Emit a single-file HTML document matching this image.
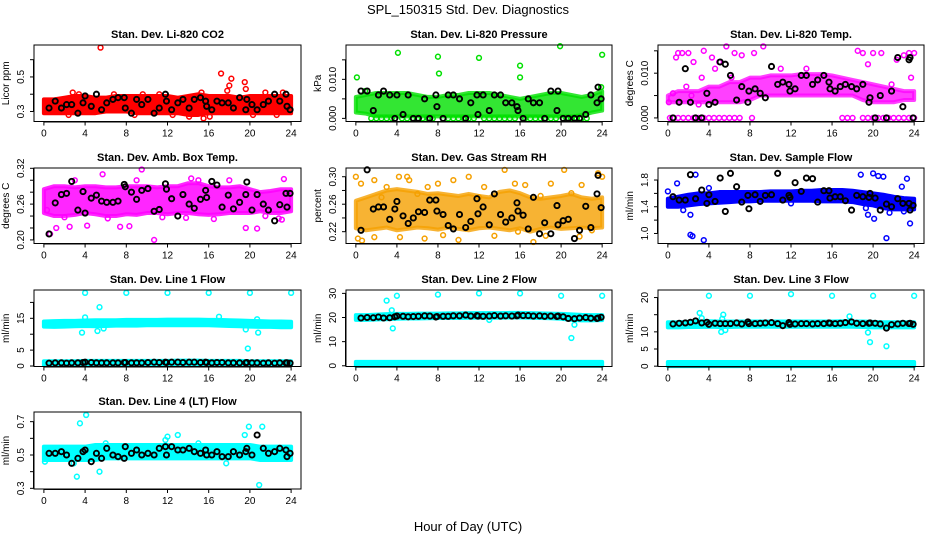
<!DOCTYPE html>
<html><head><meta charset="utf-8"><style>
body{margin:0;background:#fff;}
svg{display:block;font-family:"Liberation Sans",sans-serif;}
</style></head><body>
<svg id="chart" width="936" height="540" viewBox="0 0 936 540">
<rect width="936" height="540" fill="#fff"/>
<text x="468" y="14" text-anchor="middle" font-size="13">SPL_150315  Std. Dev. Diagnostics</text>
<text x="468" y="531" text-anchor="middle" font-size="13">Hour of Day (UTC)</text>
</svg>
<script>
const xTicks=[0,4,8,12,16,20,24];
const bandHours=[0,1,2,3,4,5,6,7,8,9,10,11,12,13,14,15,16,17,18,19,20,21,22,23,24];
const blackHours=[0.5,1.1,1.7,2.2,2.7,3.3,3.8,4.0,4.6,5.1,5.6,6.1,6.7,7.2,7.8,7.9,8.5,9.0,9.5,10.1,10.7,11.2,11.8,11.9,12.4,13.0,13.5,14.1,14.6,15.2,15.7,15.8,16.3,16.8,17.3,17.9,18.4,19.0,19.6,19.7,20.2,20.7,21.3,21.8,22.4,22.9,23.5,23.6,23.9];

// P1 CO2
const co2Lo=[0.29,0.29,0.29,0.29,0.29,0.29,0.30,0.30,0.30,0.29,0.29,0.29,0.29,0.29,0.28,0.28,0.29,0.29,0.29,0.29,0.29,0.29,0.29,0.29,0.29];
const co2Hi=[0.37,0.37,0.38,0.39,0.39,0.38,0.38,0.39,0.39,0.39,0.39,0.39,0.39,0.38,0.39,0.40,0.39,0.39,0.39,0.38,0.39,0.39,0.39,0.39,0.39];
const co2OutX=[5.5,17.2,18.2,19.5,18.0,15.5,14.1,12.5,19.6,17.8,21.5,2.8,6.8,2.4,9.6,15.3,20.3,23.2,0.2,16.1,3.4,8.8,22.6,11.2];
const co2OutY=[0.67,0.52,0.49,0.47,0.45,0.26,0.27,0.28,0.43,0.42,0.41,0.41,0.40,0.28,0.40,0.41,0.28,0.41,0.31,0.27,0.40,0.28,0.28,0.40];
const co2Black=[0.32,0.36,0.32,0.34,0.34,0.29,0.35,0.39,0.33,0.40,0.31,0.35,0.37,0.38,0.38,0.32,0.29,0.37,0.34,0.37,0.29,0.32,0.40,0.36,0.31,0.35,0.37,0.32,0.37,0.38,0.36,0.33,0.31,0.36,0.35,0.35,0.32,0.38,0.31,0.37,0.34,0.31,0.34,0.36,0.40,0.36,0.40,0.33,0.31];

// P2 Pressure
const presLo=[0.0015,0.0012,0.0005,0.0005,0.0005,0.0005,0.0005,0.0005,0.0005,0.0005,0.0005,0.0005,0.0005,0.0005,0.0005,0.0005,0.0005,0.0005,0.0005,0.0005,0.0005,0.0005,0.0008,0.0015,0.002];
const presHi=[0.0055,0.006,0.0065,0.0065,0.0065,0.0065,0.006,0.0055,0.0055,0.006,0.006,0.0065,0.0065,0.0065,0.006,0.0055,0.005,0.0055,0.006,0.0065,0.0065,0.006,0.0055,0.006,0.007];
const presOutX=[0.1,4.1,8.0,8.1,12.0,16.0,16.0,19.9,24.0,0.9,23.9,1.5,2,2.5,3,3.5,4.5,5,5.5,6,6.5,7,7.5,8.5,9,9.5,10,10.5,11,11.5,12.5,13,13.5,14,14.5,15,15.5,16.5,17,17.5,18,18.5,19,19.5,20.5,21,21.5,22,22.5];
const presOutY=[0.0105,0.0168,0.0158,0.0115,0.0155,0.0135,0.0105,0.0185,0.0163,0.007,0.008,0,0,0,0,0,0,0,0,0,0,0,0,0,0,0,0,0,0,0,0,0,0,0,0,0,0,0,0,0,0,0,0,0,0,0,0,0,0];
const presBlack=[0.007,0.007,0.002,0.006,0.007,0.006,0,0.006,0.001,0.006,0,0,0.005,0,0.006,0.003,0,0.006,0.006,0.005,0,0.004,0.006,0.001,0.006,0.002,0.006,0.006,0.004,0.004,0.003,0.002,0,0.005,0.004,0.004,0,0.007,0.002,0.007,0,0,0,0,0.001,0.006,0.004,0.008,0.005];

// P3 Li-820 Temp
const tempLo=[0.0035,0.0035,0.0035,0.0035,0.0035,0.0035,0.0035,0.0035,0.004,0.005,0.005,0.005,0.005,0.005,0.005,0.005,0.005,0.005,0.005,0.004,0.0035,0.0035,0.0035,0.004,0.004];
const tempHi=[0.005,0.006,0.006,0.006,0.007,0.007,0.008,0.008,0.009,0.009,0.0095,0.0095,0.0095,0.0098,0.0098,0.0098,0.0095,0.009,0.0085,0.008,0.0075,0.007,0.0065,0.006,0.006];
const tempOutX=[0.2,0.6,1,1.5,2,2.5,3,3.5,4,4.5,5,5.5,6,6.5,7,8.2,17,17.5,18,19,19.5,20,20.5,21,21.5,22,22.5,23,23.5,24,0.8,1,1.4,2,2.5,3.5,4.3,5,5.7,6.5,7.2,8.4,9.3,18.5,19,20,20.8,22.3,23,23.5,24,0.5,1.8,2.3,3.3,4.6,6.2,11,13.5,19.5,21.8,23.7,0.1,3];
const tempOutY=[0,0,0,0,0,0,0,0,0,0,0,0,0,0,0,0,0,0,0,0,0,0,0,0,0,0,0,0,0,0,0.0135,0.0145,0.0145,0.0145,0.0125,0.015,0.0135,0.0125,0.016,0.0145,0.014,0.0145,0.016,0.015,0.0145,0.0145,0.0145,0.013,0.014,0.0145,0.0145,0.0055,0.007,0.005,0.009,0.011,0.009,0.011,0.011,0.012,0.0075,0.009,0.0035,0.003];
const tempBlack=[0,0.0035,0.011,0.0035,0,0,0.0055,0.003,0.0035,0.0125,0.012,0.0095,0.004,0.007,0.0035,0.006,0.0065,0.0055,0.0045,0.0115,0.0075,0.008,0.0075,0.006,0.0065,0.0095,0.0095,0.0075,0.0085,0.0095,0.008,0.0065,0.006,0.007,0.0075,0.007,0.0065,0.0075,0.0035,0.0045,0,0.005,0,0.006,0.0135,0.0025,0.013,0.0135,0];

// P4 Amb Box Temp
const boxLo=[0.245,0.24,0.24,0.242,0.245,0.243,0.24,0.24,0.243,0.242,0.245,0.245,0.243,0.245,0.245,0.243,0.242,0.243,0.245,0.245,0.245,0.248,0.245,0.245,0.248];
const boxHi=[0.285,0.29,0.29,0.288,0.29,0.29,0.288,0.288,0.29,0.29,0.29,0.288,0.29,0.29,0.295,0.295,0.29,0.288,0.288,0.29,0.285,0.28,0.282,0.285,0.285];
const boxOutX=[0.6,1.2,2.5,4.2,7.4,10.7,8.3,19.6,20.7,23.1,5.7,9.0,3.0,14.3,23.3,18.0,9.5,0.3,2.0,6.2,11.5,13.8,16.5,21.5,22.8,15.0];
const boxOutY=[0.21,0.22,0.222,0.224,0.222,0.20,0.223,0.22,0.219,0.234,0.31,0.30,0.30,0.303,0.302,0.30,0.318,0.25,0.238,0.236,0.238,0.237,0.235,0.24,0.236,0.30];
const boxBlack=[0.21,0.262,0.276,0.278,0.298,0.25,0.281,0.245,0.27,0.275,0.265,0.263,0.263,0.265,0.293,0.289,0.28,0.268,0.283,0.286,0.248,0.251,0.294,0.285,0.269,0.24,0.276,0.26,0.253,0.268,0.283,0.271,0.298,0.292,0.255,0.275,0.252,0.263,0.276,0.297,0.25,0.276,0.26,0.25,0.232,0.259,0.278,0.255,0.278];

// P5 Gas Stream RH
const rhLo=[0.225,0.222,0.224,0.226,0.222,0.224,0.226,0.225,0.223,0.226,0.224,0.222,0.225,0.226,0.224,0.222,0.225,0.22,0.224,0.226,0.224,0.225,0.226,0.225,0.226];
const rhHi=[0.265,0.27,0.275,0.28,0.282,0.28,0.278,0.275,0.276,0.274,0.272,0.275,0.272,0.27,0.278,0.28,0.276,0.27,0.268,0.27,0.272,0.275,0.27,0.268,0.27];
const rhOutX=[0,0.5,1.8,3,4.2,5,5.2,7,8,9.5,11,12.5,14.5,15.5,16.5,19,20.3,22,23.6,24,0.2,1.8,4.3,6.7,10,13.5,15.8,17.3,18.5,21.8,23,0.6,8.5,2.5,6,12,18,21];
const rhOutY=[0.30,0.29,0.295,0.285,0.30,0.30,0.295,0.285,0.29,0.295,0.30,0.285,0.31,0.29,0.288,0.29,0.31,0.288,0.305,0.30,0.21,0.212,0.212,0.21,0.208,0.214,0.22,0.205,0.214,0.213,0.222,0.207,0.215,0.27,0.275,0.27,0.272,0.276];
const rhBlack=[0.222,0.31,0.253,0.256,0.256,0.238,0.253,0.264,0.243,0.232,0.24,0.249,0.248,0.266,0.266,0.25,0.245,0.229,0.224,0.245,0.226,0.235,0.268,0.246,0.256,0.23,0.275,0.245,0.234,0.24,0.262,0.25,0.244,0.224,0.27,0.217,0.233,0.217,0.258,0.23,0.236,0.238,0.21,0.222,0.257,0.226,0.275,0.302,0.255];

// P6 Sample Flow
const sfLo=[1.40,1.40,1.42,1.44,1.45,1.46,1.47,1.48,1.48,1.49,1.49,1.49,1.49,1.49,1.49,1.48,1.48,1.48,1.47,1.44,1.42,1.38,1.36,1.36,1.36];
const sfHi=[1.52,1.55,1.58,1.60,1.60,1.62,1.62,1.62,1.62,1.62,1.63,1.63,1.63,1.64,1.64,1.65,1.65,1.65,1.64,1.62,1.60,1.58,1.55,1.53,1.52];
const sfOutX=[2.2,2.4,3.5,21.3,23.6,20.1,19.5,2.7,18.8,20.0,20.5,21.0,23.3,0.9,0.0,2.2,19.3,21.6,22.8,1.5,4.0,12.0,23.0];
const sfOutY=[0.98,0.96,0.90,0.93,1.15,1.22,1.28,1.88,1.88,1.90,1.86,1.85,1.82,1.75,1.63,1.28,1.38,1.31,1.70,1.35,1.68,1.45,1.33];
const sfBlack=[1.55,1.50,1.50,1.88,1.52,1.65,1.45,1.58,1.48,1.83,1.33,1.90,1.70,1.47,1.57,1.37,1.58,1.48,1.57,1.58,1.90,1.50,1.57,1.54,1.76,1.63,1.83,1.82,1.47,1.64,1.64,1.53,1.55,1.55,1.49,1.35,1.57,1.55,1.54,1.60,1.53,1.35,1.44,1.40,1.52,1.45,1.45,1.35,1.42];

// P7 Line 1
const l1Lo=[12.4,12.3,12.4,12.5,12.6,12.5,12.6,12.7,12.7,12.7,12.8,12.8,12.8,12.8,12.8,12.8,12.8,12.7,12.6,12.5,12.4,12.3,12.3,12.2,12.2];
const l1Hi=[14.0,14.1,14.2,14.2,14.3,14.4,14.4,14.4,14.5,14.5,14.5,14.5,14.6,14.6,14.6,14.6,14.5,14.5,14.4,14.3,14.2,14.1,14.0,14.0,13.9];
const l1Lo2=[0.3,0.3,0.3,0.3,0.3,0.3,0.3,0.3,0.3,0.3,0.3,0.3,0.3,0.3,0.3,0.3,0.3,0.3,0.3,0.3,0.3,0.3,0.3,0.3,0.3];
const l1Hi2=[1.5,1.5,1.5,1.5,1.6,1.6,1.6,1.6,1.6,1.6,1.6,1.6,1.6,1.7,1.7,1.7,1.6,1.6,1.6,1.6,1.5,1.5,1.5,1.5,1.5];
const l1OutX=[4,8,12,16,20,24,5.4,3.7,5.2,19.8,20.8,19.6,17,4,20.7,5.8];
const l1OutY=[23,23,23,23,23,23,18.5,10.5,11,5.5,10.5,11.5,15.5,15.3,14.7,11.8];
const l1Black=[0.9,1,1,0.9,1,1,1.1,1.2,1.1,1,1,1,1,1,1.1,1.1,1,1,1,1.1,1.2,1.1,1.2,1.1,1.2,1.2,1.1,1.2,1.2,1.1,1.2,1.1,1,1.1,1.1,1,1,1,1,1.1,1,1,0.9,1,0.9,1,1,1,0.9];

// P8 Line 2
const l2Lo=[19.0,19.0,19.2,19.3,19.5,19.6,19.6,19.7,19.8,19.8,19.8,19.9,19.9,19.9,19.9,20.0,20.0,19.9,19.8,19.7,19.5,19.0,18.8,18.8,18.9];
const l2Hi=[21.0,21.0,21.2,21.4,21.5,21.5,21.6,21.6,21.6,21.7,21.7,21.8,21.8,21.8,21.8,21.9,21.9,21.8,21.7,21.6,21.5,21.3,21.1,21.0,21.0];
const l2Lo2=[0,0,0,0,0,0,0,0,0,0,0,0,0,0,0,0,0,0,0,0,0,0,0,0,0];
const l2Hi2=[1.6,1.6,1.6,1.6,1.6,1.6,1.6,1.6,1.6,1.6,1.6,1.6,1.6,1.6,1.6,1.6,1.6,1.6,1.6,1.6,1.6,1.6,1.6,1.6,1.6];
const l2OutX=[3,4,8,12,16,20,24,3.5,3.6,21,21.3,13];
const l2OutY=[27,29,29.5,30,30,29,29,23,15.5,11.5,17,19];
const l2Black=[19.8,20,19.9,20.2,19.8,19.9,20.3,20.6,20.5,20.3,20.4,20.5,20.7,20.6,20.2,20.4,20.5,20.5,20.7,20.7,21,20.6,20.8,20.6,20.5,20.6,20.8,20.6,20.7,20.6,20.7,21,20.8,20.8,20.6,20.7,20.5,20.6,20.4,20.6,20.3,19.6,19.5,19.8,20,19.7,19.6,19.8,20.1];

// P9 Line 3
const l3Lo=[11.3,11.3,11.4,11.4,11.5,11.4,11.4,11.5,11.5,11.5,11.5,11.5,11.5,11.5,11.5,11.5,11.5,11.5,11.5,11.4,11.3,11.3,11.3,11.3,11.3];
const l3Hi=[12.8,12.8,12.9,13.0,13.1,13.0,13.0,13.0,13.0,13.0,13.0,13.0,13.0,13.0,13.0,13.0,13.0,13.1,13.0,13.0,12.9,12.8,12.8,12.8,12.8];
const l3Lo2=[0,0,0,0,0,0,0,0,0,0,0,0,0,0,0,0,0,0,0,0,0,0,0,0,0];
const l3Hi2=[1.2,1.2,1.2,1.2,1.2,1.2,1.2,1.2,1.2,1.2,1.2,1.2,1.2,1.2,1.2,1.2,1.2,1.2,1.2,1.2,1.2,1.2,1.2,1.2,1.2];
const l3OutX=[4,8,12,16,20,24,3.1,5.4,5.2,5.6,19.5,19.7,21.3,17.7,3.3,5.3];
const l3OutY=[20.5,20.5,21,20.5,20.5,20.5,15.5,15,10,10.5,9.8,7,5.8,14.5,14,13.8];
const l3Black=[12.3,12.5,12.6,12.8,13.2,12.6,12.8,12.2,12.5,12.4,12.4,12.4,12.6,12.3,12.9,12.4,12.4,12.5,12.6,12.7,12.4,11.8,12.7,12.2,12.3,12.4,12.4,12.3,12.4,12.4,12.6,12.5,12.4,12.5,12.7,12.9,12.5,12.4,12.5,12.6,12.5,12.3,11.1,12.1,12.3,12.5,12.4,12.5,12.2];

// P10 Line 4
const l4Lo=[0.47,0.47,0.47,0.47,0.47,0.47,0.48,0.48,0.48,0.48,0.48,0.48,0.48,0.48,0.48,0.48,0.48,0.48,0.48,0.48,0.48,0.47,0.47,0.47,0.47];
const l4Hi=[0.55,0.55,0.55,0.55,0.55,0.56,0.56,0.56,0.56,0.56,0.56,0.56,0.56,0.56,0.56,0.56,0.56,0.56,0.56,0.56,0.56,0.55,0.55,0.55,0.55];
const l4OutX=[3.5,4.1,3.2,5.4,19.5,19.9,21.2,20.9,13,12,0.1,2.9,17.7,11.8,6.0,15.0];
const l4OutY=[0.69,0.74,0.37,0.40,0.62,0.67,0.67,0.32,0.62,0.61,0.46,0.45,0.45,0.59,0.57,0.57];
const l4Black=[0.51,0.51,0.52,0.50,0.45,0.48,0.52,0.53,0.46,0.51,0.48,0.54,0.50,0.49,0.48,0.55,0.51,0.53,0.50,0.51,0.50,0.54,0.55,0.50,0.55,0.53,0.53,0.54,0.52,0.51,0.53,0.50,0.50,0.52,0.49,0.49,0.52,0.50,0.52,0.54,0.50,0.62,0.54,0.51,0.52,0.54,0.53,0.49,0.51];

const colL=[34,346,658], colR=[301,612,924];
const rowT=[45,168,290,412], rowB=[121.5,243.5,366.5,489];

const panels=[
 {key:'co2',r:0,c:0,title:'Stan. Dev. Li-820 CO2',ylab:'Licor ppm',dom:[0.242,0.685],ticks:[0.3,0.4,0.5,0.6],labs:['0.3','','0.5',''],col:'#ff0000',op:1,bands:[[co2Lo,co2Hi]],ox:co2OutX,oy:co2OutY,by:co2Black},
 {key:'pressure',r:0,c:1,title:'Stan. Dev. Li-820 Pressure',ylab:'kPa',dom:[-0.0008,0.0188],ticks:[0,0.005,0.01,0.015],labs:['0.000','','0.010',''],col:'#00e000',op:0.8,bands:[[presLo,presHi]],ox:presOutX,oy:presOutY,by:presBlack},
 {key:'li820-temp',r:0,c:2,title:'Stan. Dev. Li-820 Temp.',ylab:'degrees C',dom:[-0.0008,0.0163],ticks:[0,0.005,0.01,0.015],labs:['0.000','','0.010',''],col:'#ff00ff',op:0.75,bands:[[tempLo,tempHi]],ox:tempOutX,oy:tempOutY,by:tempBlack},
 {key:'amb-box-temp',r:1,c:0,title:'Stan. Dev. Amb. Box Temp.',ylab:'degrees C',dom:[0.194,0.3205],ticks:[0.20,0.22,0.24,0.26,0.28,0.30,0.32],labs:['0.20','','','0.26','','','0.32'],col:'#ff00ff',op:0.85,bands:[[boxLo,boxHi]],ox:boxOutX,oy:boxOutY,by:boxBlack},
 {key:'gas-rh',r:1,c:1,title:'Stan. Dev. Gas Stream RH',ylab:'percent',dom:[0.2028,0.3127],ticks:[0.22,0.24,0.26,0.28,0.30],labs:['0.22','','0.26','','0.30'],col:'#f5a000',op:0.8,bands:[[rhLo,rhHi]],ox:rhOutX,oy:rhOutY,by:rhBlack},
 {key:'sample-flow',r:1,c:2,title:'Stan. Dev. Sample Flow',ylab:'ml/min',dom:[0.85,1.98],ticks:[1.0,1.2,1.4,1.6,1.8],labs:['1.0','','1.4','','1.8'],col:'#0000ff',op:1,bands:[[sfLo,sfHi]],ox:sfOutX,oy:sfOutY,by:sfBlack},
 {key:'line1-flow',r:2,c:0,title:'Stan. Dev. Line 1 Flow',ylab:'ml/min',dom:[-0.15,23.9],ticks:[0,5,10,15,20],labs:['0','5','','15',''],col:'#00ffff',op:1,bands:[[l1Lo,l1Hi],[l1Lo2,l1Hi2]],ox:l1OutX,oy:l1OutY,by:l1Black},
 {key:'line2-flow',r:2,c:1,title:'Stan. Dev. Line 2 Flow',ylab:'ml/min',dom:[-0.3,31.4],ticks:[0,10,20,30],labs:['0','10','20','30'],col:'#00ffff',op:1,bands:[[l2Lo,l2Hi],[l2Lo2,l2Hi2]],ox:l2OutX,oy:l2OutY,by:l2Black},
 {key:'line3-flow',r:2,c:2,title:'Stan. Dev. Line 3 Flow',ylab:'ml/min',dom:[-0.1,22.2],ticks:[0,5,10,15,20],labs:['0','5','10','','20'],col:'#00ffff',op:1,bands:[[l3Lo,l3Hi],[l3Lo2,l3Hi2]],ox:l3OutX,oy:l3OutY,by:l3Black},
 {key:'line4-flow',r:3,c:0,title:'Stan. Dev. Line 4 (LT) Flow',ylab:'ml/min',dom:[0.296,0.758],ticks:[0.3,0.4,0.5,0.6,0.7],labs:['0.3','','0.5','','0.7'],col:'#00ffff',op:1,bands:[[l4Lo,l4Hi]],ox:l4OutX,oy:l4OutY,by:l4Black}
];

const NS='http://www.w3.org/2000/svg';
const svg=document.getElementById('chart');
function mk(tag,attrs,parent){const e=document.createElementNS(NS,tag);for(const k in attrs)e.setAttribute(k,attrs[k]);parent.appendChild(e);return e;}

panels.forEach(p=>{
  const L=colL[p.c],R=colR[p.c],T=rowT[p.r],B=rowB[p.r];
  const w=R-L,pad=w*0.04/1.08;
  const xs=h=>L+pad+h/24*(w-2*pad);
  const ys=v=>B-(v-p.dom[0])/(p.dom[1]-p.dom[0])*(B-T);
  const g=mk('g',{},svg);
  
  
  const t=mk('text',{x:(L+R)/2,y:T-7,'text-anchor':'middle','font-size':11,'font-weight':'bold'},g);
  t.textContent=p.title;
  
  
  const clip=mk('g',{},g);
  
  
  p.bands.forEach((b,bi)=>{
    let pts=bandHours.map((h,i)=>xs(h)+','+ys(b[1][i]));
    pts=pts.concat(bandHours.slice().reverse().map((h,j)=>{const i=bandHours.length-1-j;return xs(h)+','+ys(b[0][i]);}));
    const poly=mk('polygon',{points:pts.join(' '),fill:p.col,'fill-opacity':p.op,stroke:p.col,'stroke-width':4,'stroke-linejoin':'round','stroke-opacity':p.op},clip);
    
    
  });
  for(let i=0;i<Math.min(p.ox.length,p.oy.length);i++){
    const c=mk('circle',{cx:xs(p.ox[i]),cy:ys(p.oy[i]),r:2.4,fill:'none',stroke:p.col,'stroke-width':1.5},clip);
    
    
  }
  for(let i=0;i<Math.min(blackHours.length,p.by.length);i++){
    const c=mk('circle',{cx:xs(blackHours[i]),cy:ys(p.by[i]),r:2.6,fill:'none',stroke:'#000','stroke-width':1.9},clip);
    
    
  }
  const box=mk('rect',{x:L,y:T,width:w,height:B-T,fill:'none',stroke:'#000','stroke-width':1},g);
  
  
  const xa=mk('g',{},g);
  
  
  mk('line',{x1:xs(0),x2:xs(24),y1:B+0.5,y2:B+0.5,stroke:'#000'},xa);
  xTicks.forEach(h=>{
    mk('line',{x1:xs(h),x2:xs(h),y1:B,y2:B+4,stroke:'#000'},xa);
    const tl=mk('text',{x:xs(h),y:B+15,'text-anchor':'middle','font-size':10},xa);
    tl.textContent=h;
    
    
  });
  const ya=mk('g',{},g);
  
  
  mk('line',{x1:L-0.5,x2:L-0.5,y1:ys(p.ticks[0]),y2:ys(p.ticks[p.ticks.length-1]),stroke:'#000'},ya);
  p.ticks.forEach((v,i)=>{
    const y=ys(v);
    mk('line',{x1:L-4,x2:L,y1:y,y2:y,stroke:'#000'},ya);
    if(p.labs[i]){
      const tl=mk('text',{x:L-10,y:y,'text-anchor':'middle','font-size':10,transform:'rotate(-90 '+(L-10)+' '+y+')'},ya);
      tl.textContent=p.labs[i];
      
      
    }
  });
  const yc=(T+B)/2;
  const yt=mk('text',{x:L-25,y:yc,'text-anchor':'middle','font-size':10,transform:'rotate(-90 '+(L-25)+' '+yc+')'},ya);
  yt.textContent=p.ylab;
  
  
});
</script>
</body></html>
